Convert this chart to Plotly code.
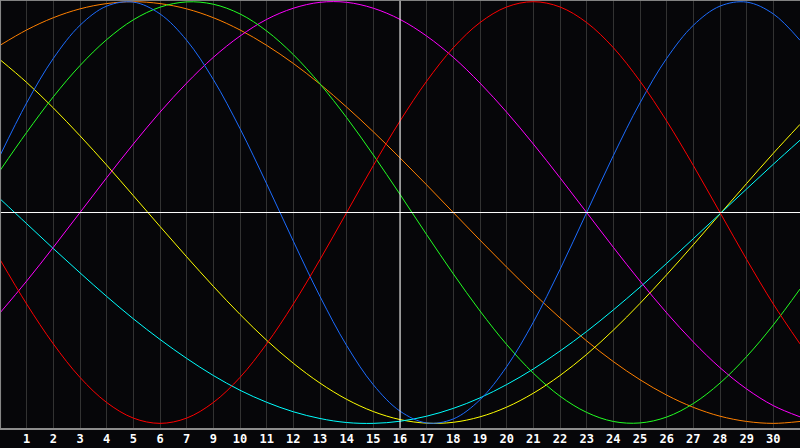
import plotly.graph_objects as go

# Day positions (0 = left edge, 30 = right edge)
days = list(range(0, 31))

# Tick labels as printed under the chart (note: "8" is absent in the source)
tick_positions = list(range(1, 30))
tick_labels = ["1", "2", "3", "4", "5", "6", "7", "9", "10", "11", "12", "13", "14", "15",
               "16", "17", "18", "19", "20", "21", "22", "23", "24", "25", "26", "27",
               "28", "29", "30"]

today_pos = 15

# Series values (-1 .. 1)
orange = [0.793, 0.866, 0.924, 0.966, 0.991, 1.0, 0.991, 0.966, 0.924, 0.866, 0.793,
          0.707, 0.609, 0.5, 0.383, 0.259, 0.131, 0.0, -0.131, -0.259, -0.383, -0.5,
          -0.609, -0.707, -0.793, -0.866, -0.924, -0.966, -0.991, -1.0, -0.991]
yellow = [0.725, 0.617, 0.496, 0.364, 0.225, 0.080, -0.066, -0.210, -0.350, -0.483,
          -0.606, -0.715, -0.809, -0.886, -0.944, -0.982, -0.999, -0.995, -0.969, -0.923,
          -0.857, -0.773, -0.673, -0.558, -0.431, -0.295, -0.153, -0.007, 0.138, 0.281, 0.418]
cyan = [0.065, -0.053, -0.171, -0.286, -0.398, -0.504, -0.602, -0.692, -0.773, -0.843,
        -0.900, -0.945, -0.977, -0.996, -1.0, -0.990, -0.966, -0.929, -0.879, -0.816,
        -0.742, -0.657, -0.564, -0.462, -0.354, -0.241, -0.124, -0.006, 0.112, 0.229, 0.343]
magenta = [-0.476, -0.325, -0.165, 0.0, 0.165, 0.325, 0.476, 0.614, 0.736, 0.837, 0.916,
           0.969, 0.997, 0.997, 0.969, 0.916, 0.837, 0.736, 0.614, 0.476, 0.325, 0.165,
           0.0, -0.165, -0.325, -0.476, -0.614, -0.736, -0.837, -0.916, -0.969]
green = [0.199, 0.380, 0.549, 0.697, 0.820, 0.914, 0.974, 0.999, 0.988, 0.942, 0.861,
         0.749, 0.610, 0.450, 0.273, 0.086, -0.105, -0.291, -0.467, -0.626, -0.762,
         -0.871, -0.948, -0.991, -0.998, -0.970, -0.906, -0.809, -0.683, -0.533, -0.363]
blue = [0.270, 0.520, 0.731, 0.888, 0.979, 0.998, 0.942, 0.817, 0.631, 0.398, 0.136,
        -0.136, -0.398, -0.631, -0.817, -0.942, -0.998, -0.979, -0.888, -0.731, -0.520,
        -0.270, 0.0, 0.270, 0.520, 0.731, 0.888, 0.979, 0.998, 0.942, 0.817]
red = [-0.223, -0.434, -0.623, -0.782, -0.901, -0.975, -1.0, -0.975, -0.901, -0.782,
       -0.623, -0.434, -0.223, 0.0, 0.223, 0.434, 0.623, 0.782, 0.901, 0.975, 1.0, 0.975,
       0.901, 0.782, 0.623, 0.434, 0.223, 0.0, -0.223, -0.434, -0.623]

series = [
    ("orange", orange, "#ff8000"),
    ("yellow", yellow, "#ffff00"),
    ("cyan", cyan, "#00ffff"),
    ("magenta", magenta, "#ff00ff"),
    ("green", green, "#22ff22"),
    ("blue", blue, "#1c6cff"),
    ("red", red, "#ff0000"),
]

BG = "#060609"

fig = go.Figure()
for name, vals, col in series:
    fig.add_trace(go.Scatter(
        x=days, y=vals, mode="lines", name=name,
        line=dict(color=col, width=1, shape="spline", smoothing=1.0),
        hoverinfo="skip", showlegend=False,
    ))

fig.update_layout(
    width=800, height=448,
    margin=dict(l=0, r=0, t=0, b=20),
    paper_bgcolor=BG, plot_bgcolor=BG,
    xaxis=dict(
        range=[0, 30], tickmode="array", tickvals=tick_positions, ticktext=tick_labels,
        showgrid=True, gridcolor="#323232", gridwidth=1, zeroline=False,
        ticks="", showline=True, linecolor="#8c8c8c", linewidth=2,
        ticklabelstandoff=-1,
        tickfont=dict(family="DejaVu Sans Mono", size=12, color="#ffffff", weight="bold"),
        fixedrange=True,
    ),
    yaxis=dict(
        range=[-1.022, 1.008], showgrid=False, zeroline=False, showticklabels=False,
        ticks="", fixedrange=True,
    ),
    shapes=[
        # horizontal zero line
        dict(type="line", xref="paper", yref="y", x0=0, x1=1, y0=0, y1=0,
             line=dict(color="#ffffff", width=1), layer="above"),
        # today marker
        dict(type="line", xref="x", yref="paper", x0=today_pos, x1=today_pos, y0=0, y1=1,
             line=dict(color="#ffffff", width=1), layer="above"),
        # frame: top and left
        dict(type="line", xref="paper", yref="paper", x0=0, x1=1, y0=0.999, y1=0.999,
             line=dict(color="#8c8c8c", width=1), layer="above"),
        dict(type="line", xref="paper", yref="paper", x0=0.0007, x1=0.0007, y0=0, y1=1,
             line=dict(color="#8c8c8c", width=1), layer="above"),
    ],
)

fig.write_html(
    "out.html",
    config={"displayModeBar": False},
    post_script="document.body.style.margin='0';document.body.style.overflow='hidden';"
                "document.body.style.background='" + BG + "';",
)
